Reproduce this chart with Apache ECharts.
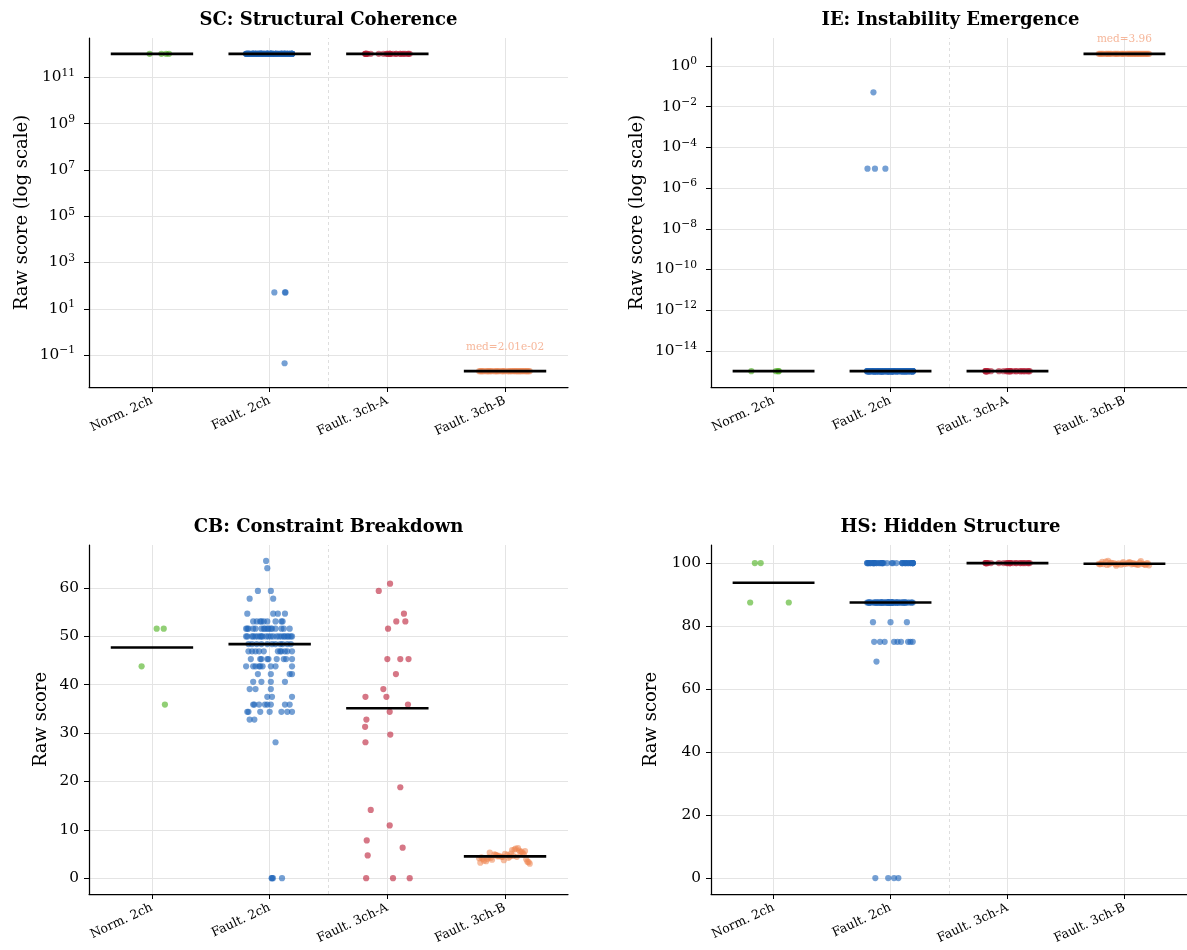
<!DOCTYPE html>
<html><head><meta charset="utf-8">
<script src="https://cdn.jsdelivr.net/npm/echarts@6/dist/echarts.min.js"></script>
<style>html,body{margin:0;padding:0;background:#fff}#c{width:1187px;height:950px}</style>
</head><body><div id="c"></div>
<script>
// ---------- categories, titles, ticks ----------
const categories = ['Norm. 2ch', 'Fault. 2ch', 'Fault. 3ch-A', 'Fault. 3ch-B'];
const panelTitles = ['SC: Structural Coherence', 'IE: Instability Emergence', 'CB: Constraint Breakdown', 'HS: Hidden Structure'];
const yAxisNames = ['Raw score (log scale)', 'Raw score (log scale)', 'Raw score', 'Raw score'];
const scTickExponents = [-1, 1, 3, 5, 7, 9, 11];
const ieTickExponents = [-14, -12, -10, -8, -6, -4, -2, 0];
const cbTicks = [0, 10, 20, 30, 40, 50, 60];
const hsTicks = [0, 20, 40, 60, 80, 100];

// ---------- jitter (horizontal offsets) ----------
const jitFault2 = [-0.03,-0.02,-0.10,0.01,-0.17,0.03,-0.19,0.03,0.07,0.13,
 -0.14,-0.11,-0.07,-0.05,-0.02,0.10,0.11,-0.08,0.05,
 -0.20,-0.18,-0.14,-0.12,-0.07,-0.05,-0.02,-0.01,0.02,0.05,0.10,0.17,-0.19,-0.04,0.01,0.12,
 -0.19,-0.15,-0.14,-0.12,-0.10,-0.08,-0.06,-0.03,-0.01,0.01,0.03,0.08,0.10,0.12,0.15,0.16,0.19,-0.20,-0.07,0.06,0.13,0.18,
 -0.18,-0.15,-0.11,-0.07,-0.02,0.02,0.05,0.09,0.11,0.15,0.18,
 -0.18,-0.15,-0.12,-0.09,-0.05,0.07,0.09,0.10,0.13,0.15,0.19,
 -0.16,-0.08,-0.07,-0.02,-0.01,0.06,0.12,0.14,0.19,
 -0.20,-0.14,-0.12,-0.09,-0.08,-0.06,0.01,0.05,0.19,
 -0.10,0.01,0.17,0.19,
 -0.14,-0.07,0.01,0.13,
 -0.17,-0.12,0.01,
 -0.02,0.02,0.19,
 -0.14,-0.13,-0.09,-0.04,-0.02,0.01,0.13,0.17,
 -0.19,-0.18,-0.08,0.00,0.10,0.15,0.19,
 -0.17,-0.13,
 0.05];
const jit3A = [0.023,-0.073,0.141,0.076,0.153,0.006,0.0,0.11,0.18,0.073,-0.034,-0.186,-0.008,0.175,0.02,-0.178,-0.189,0.025,-0.186,0.11,-0.141,0.02,-0.175,0.13,-0.167,-0.18,0.048,0.19];
const jit3B = [-0.21,0.13,-0.05,0.18,-0.16,0.02,0.09,-0.12,0.21,-0.02,-0.19,0.06,0.15,-0.09,0.11,-0.14,0.0,0.19,-0.07,0.04,-0.22,0.17,-0.11,0.08,-0.03,0.14,-0.18,0.1,0.05,-0.15,0.2,-0.08,0.03,-0.13,0.16,-0.01,0.12,-0.2,0.07,-0.06];

// ---------- SC panel ----------
const scNorm = [1.05e12,1.05e12,1.05e12,1.05e12];
const scNormJit = [-0.02,0.08,0.12,0.145];
const scFault2 = [
 1.05e12,1.05e12,1.05e12,1.05e12,1.05e12,1.05e12,1.05e12,1.05e12,1.05e12,1.05e12,
 1.05e12,1.05e12,1.05e12,1.05e12,1.05e12,1.05e12,1.05e12,1.05e12,1.05e12,1.05e12,
 1.05e12,1.05e12,1.05e12,1.05e12,1.05e12,1.05e12,1.05e12,1.05e12,1.05e12,1.05e12,
 1.05e12,1.05e12,1.05e12,1.05e12,1.05e12,1.05e12,1.05e12,1.05e12,1.05e12,1.05e12,
 1.05e12,1.05e12,1.05e12,1.05e12,1.05e12,1.05e12,1.05e12,1.05e12,1.05e12,1.05e12,
 1.05e12,1.05e12,1.05e12,1.05e12,1.05e12,1.05e12,1.05e12,1.05e12,1.05e12,1.05e12,
 1.05e12,1.05e12,1.05e12,1.05e12,1.05e12,1.05e12,1.05e12,1.05e12,1.05e12,1.05e12,
 1.05e12,1.05e12,1.05e12,1.05e12,1.05e12,1.05e12,1.05e12,1.05e12,1.05e12,1.05e12,
 1.05e12,1.05e12,1.05e12,1.05e12,1.05e12,1.05e12,1.05e12,1.05e12,1.05e12,1.05e12,
 1.05e12,1.05e12,1.05e12,1.05e12,1.05e12,1.05e12,1.05e12,1.05e12,1.05e12,1.05e12,
 1.05e12,1.05e12,1.05e12,1.05e12,1.05e12,1.05e12,1.05e12,1.05e12,1.05e12,1.05e12,
 1.05e12,1.05e12,1.05e12,1.05e12,1.05e12,1.05e12,1.05e12,1.05e12,1.05e12,1.05e12,
 1.05e12,1.05e12,1.05e12,1.05e12,1.05e12,1.05e12,1.05e12,1.05e12,1.05e12];
const scFault2Out = [51, 51, 51, 0.044];
const scFault2OutJit = [0.04, 0.13, 0.135, 0.127];
const sc3A = [1.05e12,1.05e12,1.05e12,1.05e12,1.05e12,1.05e12,1.05e12,1.05e12,1.05e12,1.05e12,
 1.05e12,1.05e12,1.05e12,1.05e12,1.05e12,1.05e12,1.05e12,1.05e12,1.05e12,1.05e12,
 1.05e12,1.05e12,1.05e12,1.05e12,1.05e12,1.05e12,1.05e12,1.05e12];
const sc3B = [0.0201,0.0200,0.0202,0.0201,0.0201,0.0199,0.0201,0.0202,0.0201,0.0200,
 0.0201,0.0201,0.0203,0.0201,0.0200,0.0201,0.0202,0.0201,0.0201,0.0199,
 0.0201,0.0200,0.0201,0.0202,0.0201,0.0201,0.0200,0.0201,0.0202,0.0201,
 0.0201,0.0199,0.0201,0.0201,0.0202,0.0200,0.0201,0.0201,0.0203,0.0201];

// ---------- IE panel ----------
const ieNorm = [1e-15,1e-15,1e-15,1e-15];
const ieNormJit = [-0.19,0.02,0.04,0.045];
const ieFault2 = [
 1e-15,1e-15,1e-15,1e-15,1e-15,1e-15,1e-15,1e-15,1e-15,1e-15,
 1e-15,1e-15,1e-15,1e-15,1e-15,1e-15,1e-15,1e-15,1e-15,1e-15,
 1e-15,1e-15,1e-15,1e-15,1e-15,1e-15,1e-15,1e-15,1e-15,1e-15,
 1e-15,1e-15,1e-15,1e-15,1e-15,1e-15,1e-15,1e-15,1e-15,1e-15,
 1e-15,1e-15,1e-15,1e-15,1e-15,1e-15,1e-15,1e-15,1e-15,1e-15,
 1e-15,1e-15,1e-15,1e-15,1e-15,1e-15,1e-15,1e-15,1e-15,1e-15,
 1e-15,1e-15,1e-15,1e-15,1e-15,1e-15,1e-15,1e-15,1e-15,1e-15,
 1e-15,1e-15,1e-15,1e-15,1e-15,1e-15,1e-15,1e-15,1e-15,1e-15,
 1e-15,1e-15,1e-15,1e-15,1e-15,1e-15,1e-15,1e-15,1e-15,1e-15,
 1e-15,1e-15,1e-15,1e-15,1e-15,1e-15,1e-15,1e-15,1e-15,1e-15,
 1e-15,1e-15,1e-15,1e-15,1e-15,1e-15,1e-15,1e-15,1e-15,1e-15,
 1e-15,1e-15,1e-15,1e-15,1e-15,1e-15,1e-15,1e-15,1e-15,1e-15,
 1e-15,1e-15,1e-15,1e-15,1e-15,1e-15,1e-15,1e-15,1e-15];
const ieFault2Out = [0.051, 9e-6, 9e-6, 9e-6];
const ieFault2OutJit = [-0.146, -0.197, -0.133, -0.044];
const ie3A = [1e-15,1e-15,1e-15,1e-15,1e-15,1e-15,1e-15,1e-15,1e-15,1e-15,
 1e-15,1e-15,1e-15,1e-15,1e-15,1e-15,1e-15,1e-15,1e-15,1e-15,
 1e-15,1e-15,1e-15,1e-15,1e-15,1e-15,1e-15,1e-15];
const ie3B = [3.96,3.95,3.97,3.96,3.94,3.96,3.98,3.96,3.95,3.97,3.96,3.96,3.95,3.97,3.96,3.93,3.96,3.97,3.96,3.95,
 3.96,3.98,3.96,3.95,3.96,3.97,3.96,3.94,3.96,3.97,3.95,3.96,3.96,3.97,3.96,3.95,3.98,3.96,3.96,3.95];

// ---------- CB panel ----------
const cbNorm = [51.6, 51.6, 43.8, 35.9];
const cbNormJit = [0.04, 0.10, -0.088, 0.11];
const cbFault2 = [65.6,64.1,59.4,59.4,57.8,57.8,54.7,54.7,54.7,54.7,
 53.1,53.1,53.1,53.1,53.1,53.1,53.1,53.1,53.1,
 51.6,51.6,51.6,51.6,51.6,51.6,51.6,51.6,51.6,51.6,51.6,51.6,51.6,51.6,51.6,51.6,
 50,50,50,50,50,50,50,50,50,50,50,50,50,50,50,50,50,50,50,50,50,50,
 48.4,48.4,48.4,48.4,48.4,48.4,48.4,48.4,48.4,48.4,48.4,
 46.9,46.9,46.9,46.9,46.9,46.9,46.9,46.9,46.9,46.9,46.9,
 45.3,45.3,45.3,45.3,45.3,45.3,45.3,45.3,45.3,
 43.8,43.8,43.8,43.8,43.8,43.8,43.8,43.8,43.8,
 42.2,42.2,42.2,42.2,
 40.6,40.6,40.6,40.6,
 39.1,39.1,39.1,
 37.5,37.5,37.5,
 35.9,35.9,35.9,35.9,35.9,35.9,35.9,35.9,
 34.4,34.4,34.4,34.4,34.4,34.4,34.4,
 32.8,32.8,
 28.1];
const cbFault2Out = [0, 0, 0, 0];
const cbFault2OutJit = [0.017, 0.028, 0.02, 0.105];
const cb3A = [60.9,59.4,54.7,53.1,53.1,51.6,45.3,45.3,45.3,42.2,39.1,37.5,37.5,35.9,34.4,32.8,31.3,29.7,28.1,18.8,14.1,10.9,7.8,6.3,4.7,0,0,0];
const cb3B = [3.2,5.4,4.6,3.9,3.5,4.8,6.1,4.2,3.0,4.4,4.0,5.8,5.2,4.9,6.2,4.3,5.0,3.4,4.7,4.5,
 4.1,5.6,3.8,5.9,4.4,5.5,3.6,4.4,5.1,4.0,3.3,4.8,4.2,5.3,4.9,3.7,5.7,4.3,4.6,4.5];

// ---------- HS panel ----------
const hsNorm = [100, 100, 87.5, 87.5];
const hsNormJit = [-0.16, -0.11, -0.2, 0.13];
const hsFault2 = [100,87.5,100,87.5,100,87.5,100,75,87.5,100,
 100,87.5,100,87.5,87.5,100,87.5,87.5,87.5,100,
 87.5,100,87.5,100,87.5,87.5,87.5,100,87.5,87.5,
 100,100,87.5,87.5,100,87.5,100,87.5,100,87.5,
 87.5,100,87.5,87.5,100,87.5,87.5,100,87.5,100,
 87.5,100,100,87.5,87.5,100,87.5,100,81.25,87.5,
 100,87.5,87.5,100,75,87.5,100,87.5,87.5,100,
 87.5,100,75,87.5,87.5,100,87.5,87.5,100,87.5,
 100,87.5,87.5,87.5,75,87.5,81.25,100,87.5,75,
 100,87.5,87.5,87.5,87.5,87.5,100,87.5,87.5,100,
 87.5,100,87.5,87.5,87.5,100,68.75,87.5,87.5,87.5,
 100,87.5,87.5,75,87.5,87.5,87.5,87.5,75,87.5,
 87.5,87.5,81.25,87.5,75,75,87.5,87.5,87.5];
const hsFault2Out = [0, 0, 0, 0];
const hsFault2OutJit = [-0.13, -0.02, 0.03, 0.067];
const hs3A = [100,100,100,100,100,100,100,100,100,100,100,100,100,100,100,100,100,100,100,100,100,100,100,100,100,100,100,100];
const hs3B = [99.6,100.2,99.9,99.4,100.5,99.8,99.7,100.1,99.3,99.9,100.4,99.6,99.8,100.0,99.5,100.7,99.7,99.9,99.2,100.3,
 99.8,99.6,100.1,99.9,99.5,100.6,99.7,99.8,100.2,99.4,99.9,99.7,100.0,99.6,99.8,100.3,99.5,99.8,99.9,99.7];

// ---------- build ----------
const FONT = '"DejaVu Serif", "Liberation Serif", serif';
const groupColors = ['#4eb220', '#2165ba', '#bd233c', '#ee8550'];
const groupOpacity = [0.62, 0.62, 0.62, 0.55];
const grids = [
  {left: 89, top: 38, width: 479, height: 349},
  {left: 711, top: 38, width: 479, height: 349},
  {left: 89, top: 545, width: 479, height: 349},
  {left: 711, top: 545, width: 479, height: 349}
];
const panels = [
  {log: true, ticks: scTickExponents, min: -2.383, max: 12.706, nameGap: 58, labelMargin: 14,
   groups: [[scNorm, scNormJit], [scFault2.concat(scFault2Out), jitFault2.concat(scFault2OutJit)], [sc3A, jit3A], [sc3B, jit3B]],
   annot: {group: 3, dy: 1.04}},
  {log: true, ticks: ieTickExponents, min: -15.78, max: 1.378, nameGap: 65, labelMargin: 14,
   groups: [[ieNorm, ieNormJit], [ieFault2.concat(ieFault2Out), jitFault2.concat(ieFault2OutJit)], [ie3A, jit3A], [ie3B, jit3B]],
   annot: {group: 3, dy: 0.72}},
  {log: false, ticks: cbTicks, min: -3.28, max: 68.9, nameGap: 39, labelMargin: 10,
   groups: [[cbNorm, cbNormJit], [cbFault2.concat(cbFault2Out), jitFault2.concat(cbFault2OutJit)], [cb3A, jit3A], [cb3B, jit3B]]},
  {log: false, ticks: hsTicks, min: -5.04, max: 105.75, nameGap: 51, labelMargin: 10,
   groups: [[hsNorm, hsNormJit], [hsFault2.concat(hsFault2Out), jitFault2.concat(hsFault2OutJit)], [hs3A, jit3A], [hs3B, jit3B]]}
];

function median(arr) {
  const s = arr.slice().sort((a, b) => a - b);
  const n = s.length;
  return n % 2 ? s[(n - 1) / 2] : (s[n / 2 - 1] + s[n / 2]) / 2;
}
function fmtMed(v) {
  if (v < 0.1 || v >= 1000) {
    const parts = v.toExponential(2).split('e');
    const sign = parts[1][0] === '-' ? '-' : '+';
    const digits = parts[1].replace(/^[+-]/, '').padStart(2, '0');
    return parts[0] + 'e' + sign + digits;
  }
  return v.toFixed(2);
}
const MINUS = '\u2212';
const gridColor = '#e4e4e4';

const xAxes = [], yAxes = [], series = [];
panels.forEach((P, p) => {
  const tf = v => P.log ? Math.log10(v) : v;
  xAxes.push({
    gridIndex: p, type: 'value', min: -0.535, max: 3.535,
    axisLine: {show: true, onZero: false, lineStyle: {color: '#000', width: 1.25}},
    axisTick: {show: true, customValues: [0, 1, 2, 3], length: 5, lineStyle: {color: '#000', width: 1}},
    axisLabel: {customValues: [0, 1, 2, 3], formatter: v => categories[Math.round(v)], rotate: 25,
      fontFamily: FONT, fontSize: 12.5, color: '#000', margin: 13},
    splitLine: {show: true, lineStyle: {color: gridColor, width: 1}}
  });
  yAxes.push({
    gridIndex: p, type: 'value', min: P.min, max: P.max,
    name: yAxisNames[p], nameLocation: 'middle', nameGap: P.nameGap,
    nameTextStyle: {fontFamily: FONT, fontSize: 18, color: '#000'},
    axisLine: {show: true, onZero: false, lineStyle: {color: '#000', width: 1.25}},
    axisTick: {show: true, customValues: P.ticks, length: 5, lineStyle: {color: '#000', width: 1}},
    axisLabel: {
      customValues: P.ticks, fontFamily: FONT, fontSize: 15.3, color: '#000', margin: P.labelMargin,
      formatter: P.log
        ? (v => '{b|10}{s|' + (v < 0 ? MINUS + Math.abs(Math.round(v)) : Math.round(v)) + '}')
        : (v => String(Math.round(v))),
      rich: {
        b: {fontFamily: FONT, fontSize: 15.3, color: '#000'},
        s: {fontFamily: FONT, fontSize: 10.7, color: '#000', padding: [0, 0, 9, 0]}
      }
    },
    splitLine: {show: true, lineStyle: {color: gridColor, width: 1}}
  });
  P.groups.forEach((G, g) => {
    const vals = G[0], jit = G[1];
    const s = {
      type: 'scatter', xAxisIndex: p, yAxisIndex: p, symbolSize: 6.2, silent: true, z: 3,
      itemStyle: {color: groupColors[g], opacity: groupOpacity[g]},
      data: vals.map((v, i) => [g + jit[i], tf(v)])
    };
    if (g === 0) {
      s.markLine = {silent: true, symbol: 'none', label: {show: false}, animation: false,
        lineStyle: {type: [3, 3], color: '#d6d6d6', width: 0.8}, data: [{xAxis: 1.5}]};
    }
    series.push(s);
    const m = tf(median(vals));
    series.push({
      type: 'line', xAxisIndex: p, yAxisIndex: p, silent: true, z: 6, symbol: 'none',
      lineStyle: {color: '#000', width: 2.6},
      data: [[g - 0.35, m], [g + 0.35, m]]
    });
    if (P.annot && P.annot.group === g) {
      const med = median(vals);
      series.push({
        type: 'scatter', xAxisIndex: p, yAxisIndex: p, silent: true, z: 7, symbolSize: 0,
        data: [[g, tf(med) + P.annot.dy]],
        label: {show: true, position: 'inside', formatter: 'med=' + fmtMed(med),
          fontFamily: FONT, fontSize: 10.5, color: '#f4a582'}
      });
    }
  });
});

const chart = echarts.init(document.getElementById('c'));
chart.setOption({
  animation: false,
  backgroundColor: '#fff',
  grid: grids.map(g => Object.assign({containLabel: false}, g)),
  xAxis: xAxes,
  yAxis: yAxes,
  series: series,
  graphic: panelTitles.map((t, p) => ({
    type: 'text', x: grids[p].left + grids[p].width / 2, y: grids[p].top - 17.5, silent: true,
    style: {text: t, font: 'bold 18px "DejaVu Serif"', textAlign: 'center', textVerticalAlign: 'middle', fill: '#000'}
  }))
});
</script>
</body></html>
